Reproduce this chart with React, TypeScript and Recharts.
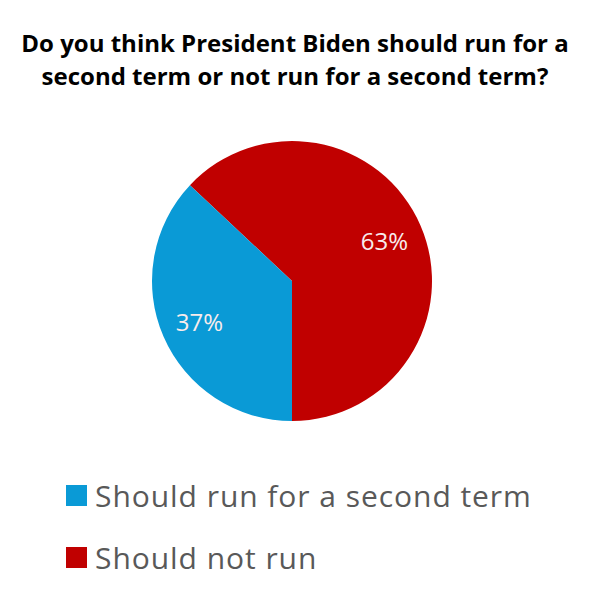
import { PieChart, Pie, Cell, Legend } from 'recharts'

const title = [
  'Do you think President Biden should run for a',
  'second term or not run for a second term?',
]
const answers = ['Should not run', 'Should run for a second term']
const shares = [63, 37]
const colors = ['#C00000', '#0A9AD6']

const data = answers.map((name, i) => ({ name, value: shares[i] }))

const RADIAN = Math.PI / 180

const renderLabel = (props: any) => {
  const { cx, cy, midAngle, outerRadius, value } = props
  const r = outerRadius * 0.72
  const x = cx + r * Math.cos(-midAngle * RADIAN)
  const y = cy + r * Math.sin(-midAngle * RADIAN)
  return (
    <text
      x={x}
      y={y}
      fill="#F8ECEC"
      textAnchor="middle"
      dominantBaseline="central"
      fontSize={24}
      fontFamily="'Open Sans', sans-serif"
    >
      {`${value}%`}
    </text>
  )
}

const renderLegend = (props: any) => {
  const items = [...(props.payload || [])].reverse()
  return (
    <div style={{ fontFamily: "'Open Sans', sans-serif", textAlign: 'left' }}>
      {items.map((entry: any) => (
        <div
          key={entry.value}
          style={{ display: 'flex', alignItems: 'center', height: 62 }}
        >
          <span
            style={{
              display: 'inline-block',
              width: 21,
              height: 21,
              background: entry.color,
              marginRight: 8,
            }}
          />
          <span style={{ fontSize: 30, letterSpacing: 0.95, color: '#595959' }}>
            {entry.value}
          </span>
        </div>
      ))}
    </div>
  )
}

export default function App() {
  return (
    <div
      style={{
        position: 'absolute',
        left: 0,
        top: 0,
        width: 601,
        height: 600,
        background: '#fff',
      }}
    >
      <div
        style={{
          position: 'absolute',
          top: 26,
          left: 0,
          width: 590,
          textAlign: 'center',
          fontFamily: "'Open Sans', sans-serif",
          fontWeight: 700,
          fontSize: 24,
          lineHeight: '33px',
          color: '#000',
        }}
      >
        {title.map((t) => (
          <div key={t}>{t}</div>
        ))}
      </div>
      <PieChart
        width={601}
        height={600}
        margin={{ top: 0, right: 0, bottom: 0, left: 0 }}
      >
        <Pie
          data={data}
          dataKey="value"
          nameKey="name"
          cx={292}
          cy={281}
          outerRadius={140}
          startAngle={-90}
          endAngle={270}
          stroke="none"
          label={renderLabel}
          labelLine={false}
          isAnimationActive={false}
        >
          {data.map((d, i) => (
            <Cell key={d.name} fill={colors[i]} />
          ))}
        </Pie>
        <Legend
          content={renderLegend}
          layout="horizontal"
          verticalAlign="bottom"
          align="left"
          wrapperStyle={{ left: 66, top: 464, width: 520, bottom: 'auto' }}
        />
      </PieChart>
    </div>
  )
}
